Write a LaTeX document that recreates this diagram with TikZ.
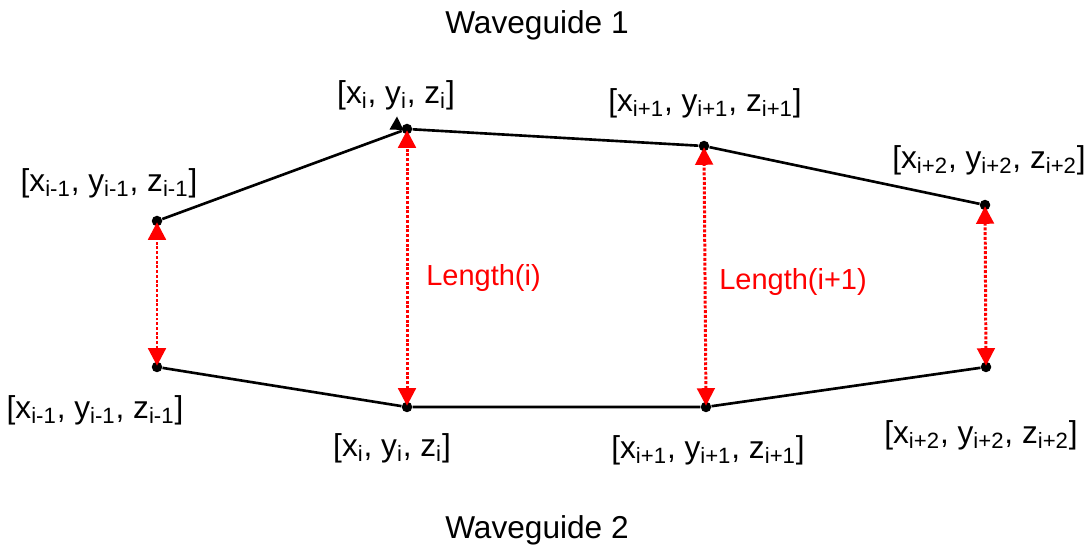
\documentclass[tikz,border=0pt]{standalone}
\usepackage{fontspec}
\setmainfont{Liberation Sans}
\usetikzlibrary{arrows.meta}
\newcommand{\pt}[1]{[x\textsubscript{#1}, y\textsubscript{#1}, z\textsubscript{#1}]}
\tikzset{
  dot/.style={circle, fill=black, inner sep=0pt, minimum size=0.21cm},
  guide/.style={line width=1.5pt},
  gap/.style={red, line width=1.7pt, densely dotted, shorten <=-2.5pt, shorten >=-2.5pt,
    {Triangle[width=10pt,length=10pt]}-{Triangle[width=10pt,length=10pt]}},
  lbl/.style={font=\fontsize{18}{22}\selectfont},
  lenlbl/.style={red, font=\fontsize{16.5}{20}\selectfont}
}
\begin{document}
\begin{tikzpicture}
    \useasboundingbox (0,0) rectangle (21.72,11);

    % Waveguide 1 points
    \node[dot] (t1) at (3.14,6.58) {};
    \node[dot] (t2) at (8.14,8.42) {};
    \node[dot] (t3) at (14.08,8.08) {};
    \node[dot] (t4) at (19.70,6.90) {};

    % Waveguide 2 points
    \node[dot] (b1) at (3.14,3.66) {};
    \node[dot] (b2) at (8.14,2.86) {};
    \node[dot] (b3) at (14.12,2.86) {};
    \node[dot] (b4) at (19.72,3.66) {};

    % Waveguide outlines
    \draw[guide] (t1) -- (t2) -- (t3) -- (t4);
    \draw[guide] (b1) -- (b2) -- (b3) -- (b4);
    \fill (7.94,8.67) -- (7.79,8.41) -- (8.07,8.40) -- cycle;

    % Distances between the waveguides
    \draw[gap] (b1) -- (t1);
    \draw[gap] (b2) -- (t2);
    \draw[gap] (b3) -- (t3);
    \draw[gap] (b4) -- (t4);

    % Labels
    \node[lbl] (w1) at (10.74,10.5) {Waveguide 1};
    \node[lbl] (w2) at (10.74,0.4) {Waveguide 2};
    \node[lenlbl] (len1) at (9.67,5.44) {Length(i)};
    \node[lenlbl] (len2) at (15.86,5.36) {Length(i+1)};

    \node[lbl] at (2.18,7.34) {\pt{i-1}};
    \node[lbl] at (7.92,9.10) {\pt{i}};
    \node[lbl] at (14.10,8.94) {\pt{i+1}};
    \node[lbl] at (19.78,7.80) {\pt{i+2}};

    \node[lbl] at (1.90,2.80) {\pt{i-1}};
    \node[lbl] at (7.84,2.04) {\pt{i}};
    \node[lbl] at (14.16,2.00) {\pt{i+1}};
    \node[lbl] at (19.62,2.30) {\pt{i+2}};

\end{tikzpicture}
\end{document}
